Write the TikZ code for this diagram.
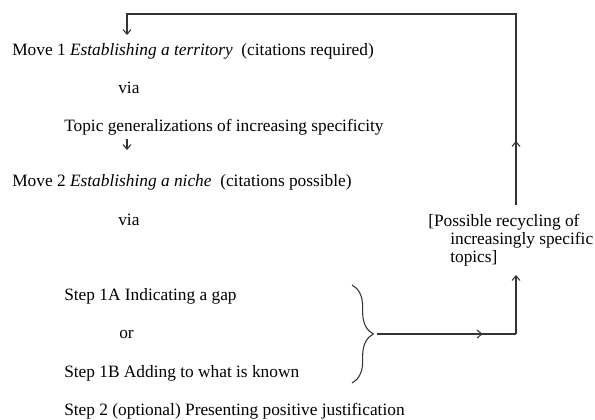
\documentclass[tikz,border=0pt]{standalone}
\usepackage{fontspec}
\setmainfont{Liberation Serif}
\usetikzlibrary{arrows.meta, positioning, decorations.pathreplacing, decorations.markings}

\begin{document}
\begin{tikzpicture}[
    x=0.75pt, y=-0.75pt,
    txt/.style={anchor=base west, inner sep=0pt,
                font=\fontsize{13pt}{13.2pt}\selectfont, align=left},
    line/.style={line width=0.8pt, black!80},
    arr/.style={line, -{Straight Barb[length=3.5pt, width=6pt]}},
    midarr/.style={line, postaction={decorate},
                   decoration={markings,
                     mark=at position #1 with {\arrow{Straight Barb[length=3.5pt, width=6pt]}}}},
    brc/.style={line, decorate, decoration={brace, amplitude=16pt}},
  ]
    \useasboundingbox (0,0) rectangle (595,419);

    % moves and steps
    \node[txt] (move1)  at (12,55)   {Move 1 \textit{Establishing a territory}\ \ (citations required)};
    \node[txt] (via1)   at (118,93)  {via};
    \node[txt] (topic)  at (64,131)  {Topic generalizations of increasing specificity};
    \node[txt] (move2)  at (12,186)  {Move 2 \textit{Establishing a niche}\ \ (citations possible)};
    \node[txt] (via2)   at (118,225) {via};
    \node[txt] (step1a) at (64,300)  {Step 1A Indicating a gap};
    \node[txt] (or)     at (119,338) {or};
    \node[txt] (step1b) at (64,377)  {Step 1B Adding to what is known};
    \node[txt] (step2)  at (64,415)  {Step 2 (optional) Presenting positive justification};

    % recycling note (base = last line)
    \node[txt] (recycle) at (428,262) {[Possible recycling of\\
                                       \hspace*{16.5pt}increasingly specific\\
                                       \hspace*{16.5pt}topics]};

    \coordinate (braceTop) at (352,285);
    \coordinate (braceBot) at (352,383);
    \coordinate (tip)      at (377,334);
    \coordinate (cornerBR) at (516,334);
    \coordinate (recIn)    at (516,275);
    \coordinate (recOut)   at (516,205);
    \coordinate (cornerTR) at (516,14);
    \coordinate (move1In)  at (127,35);
    \coordinate (topicOut) at (127,139);
    \coordinate (move2In)  at (127,150);

    % Topic -> Move 2
    \draw[arr] (topicOut) -- (move2In);

    % brace round steps 1A / 1B
    \draw[brc] (braceTop) -- (braceBot);

    % brace -> recycling note
    \draw[midarr=0.76] (tip) -- (cornerBR);
    \draw[arr] (cornerBR) -- (recIn);

    % recycling note -> back to Move 1
    \draw[arr, midarr=48pt] (recOut) -- (cornerTR) -| (move1In);
  \end{tikzpicture}
\end{document}
